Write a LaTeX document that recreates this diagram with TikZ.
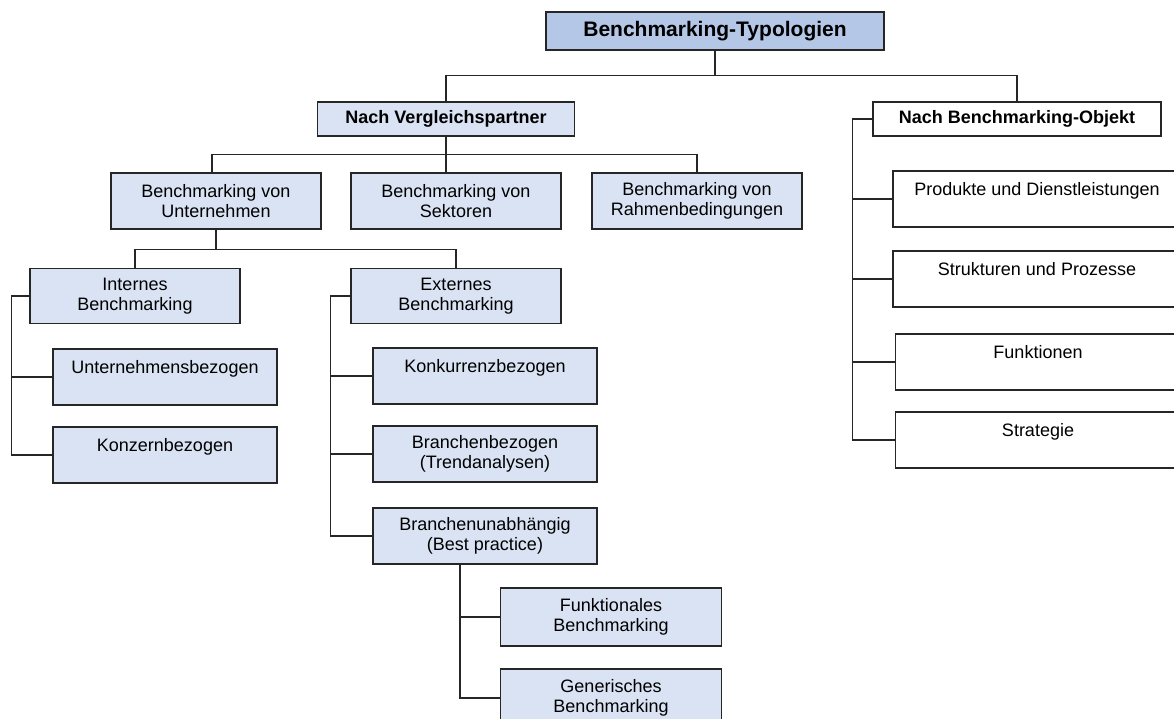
\documentclass[tikz,border=0pt]{standalone}
\usepackage{fontspec}
\setmainfont{Liberation Sans}
\definecolor{headblue}{RGB}{180,199,231}
\definecolor{lightblue}{RGB}{218,227,243}
\definecolor{linegray}{RGB}{38,38,38}
\tikzset{
  anybox/.style={draw=linegray, line width=1.4pt, inner sep=0pt, align=center,
    font=\fontsize{18}{20.5}\selectfont, minimum height=56pt, minimum width=210pt},
  headbox/.style={anybox, fill=headblue, font=\fontsize{21}{24}\selectfont\bfseries,
    minimum height=38pt, minimum width=338pt},
  bluebox/.style={anybox, fill=lightblue},
  plainbox/.style={anybox, fill=white},
  link/.style={draw=linegray, line width=1.3pt}
}
\begin{document}
\begin{tikzpicture}[x=1pt, y=-1pt]
      \useasboundingbox (0,0) rectangle (1174,719);
      % root
      \node[headbox] at (715,31) (root) {Benchmarking-Typologien};
      % first level
      \node[bluebox, font=\fontsize{18}{20.5}\selectfont\bfseries, minimum width=257pt, minimum height=34pt] at (446,119) (nv) {Nach Vergleichspartner};
      \node[plainbox, font=\fontsize{18}{20.5}\selectfont\bfseries, minimum width=288pt, minimum height=34pt] at (1017,119) (nbo) {Nach Benchmarking-Objekt};
      \draw[link] (root.south) -- ++(0,25) -| (nv.north);
      \draw[link] (root.south) -- ++(0,25) -| (nbo.north);
      % second level, left
      \node[bluebox] at (216,201) (bvu) {Benchmarking von\\Unternehmen};
      \node[bluebox] at (456,201) (bvs) {Benchmarking von\\Sektoren};
      \node[bluebox] at (697,201) (bvr) {Benchmarking von\\Rahmenbedingungen};
      \draw[link] (nv.south) -- ++(0,18) coordinate (nvj);
      \draw[link] (nvj) -| ([xshift=-4pt]bvu.north);
      \draw[link] (nvj) -- (nvj |- bvs.north);
      \draw[link] (nvj) -| (bvr.north);
      % third level
      \node[bluebox, minimum height=55pt] at (135,296) (int) {Internes\\Benchmarking};
      \node[bluebox, minimum height=55pt] at (456,296) (ext) {Externes\\Benchmarking};
      \draw[link] (bvu.south) -- ++(0,20) -| (int.north);
      \draw[link] (bvu.south) -- ++(0,20) -| (ext.north);
      % internes
      \node[bluebox, minimum width=224pt] at (165,377) (unt) {Unternehmensbezogen\\~};
      \node[bluebox, minimum width=224pt] at (165,455) (kzb) {Konzernbezogen\\~};
      \draw[link] (int.west) -- ++(-18,0) coordinate (ib) |- (kzb.west);
      \draw[link] (ib |- unt.west) -- (unt.west);
      % externes
      \node[bluebox, minimum width=224pt] at (485,376) (kkz) {Konkurrenzbezogen\\~};
      \node[bluebox, minimum width=224pt] at (485,454) (brb) {Branchenbezogen\\(Trendanalysen)};
      \node[bluebox, minimum width=224pt] at (485,536) (bua) {Branchenunabhängig\\(Best practice)};
      \draw[link] (ext.west) -- ++(-20,0) coordinate (eb) |- (bua.west);
      \draw[link] (eb |- kkz.west) -- (kkz.west);
      \draw[link] (eb |- brb.west) -- (brb.west);
      % best practice
      \node[bluebox, minimum width=221pt, minimum height=58pt] at (611,617) (fkt) {Funktionales\\Benchmarking};
      \node[bluebox, minimum width=221pt, minimum height=58pt] at (611,698) (gen) {Generisches\\Benchmarking};
      \draw[link] ([xshift=-25pt]bua.south) |- (gen.west);
      \draw[link] ([xshift=-25pt]bua.south |- fkt.west) -- (fkt.west);
      % objekt
      \node[plainbox, minimum width=288pt] at (1037,199) (prd) {Produkte und Dienstleistungen\\~};
      \node[plainbox, minimum width=288pt] at (1037,279) (spz) {Strukturen und Prozesse\\~};
      \node[plainbox, minimum width=285pt] at (1038,362) (fun) {Funktionen\\~};
      \node[plainbox, minimum width=285pt] at (1038,440) (stg) {Strategie\\~};
      \draw[link] (nbo.west) -- ++(-20,0) coordinate (ob) |- (stg.west);
      \draw[link] (ob |- prd.west) -- (prd.west);
      \draw[link] (ob |- spz.west) -- (spz.west);
      \draw[link] (ob |- fun.west) -- (fun.west);
    \end{tikzpicture}
\end{document}
